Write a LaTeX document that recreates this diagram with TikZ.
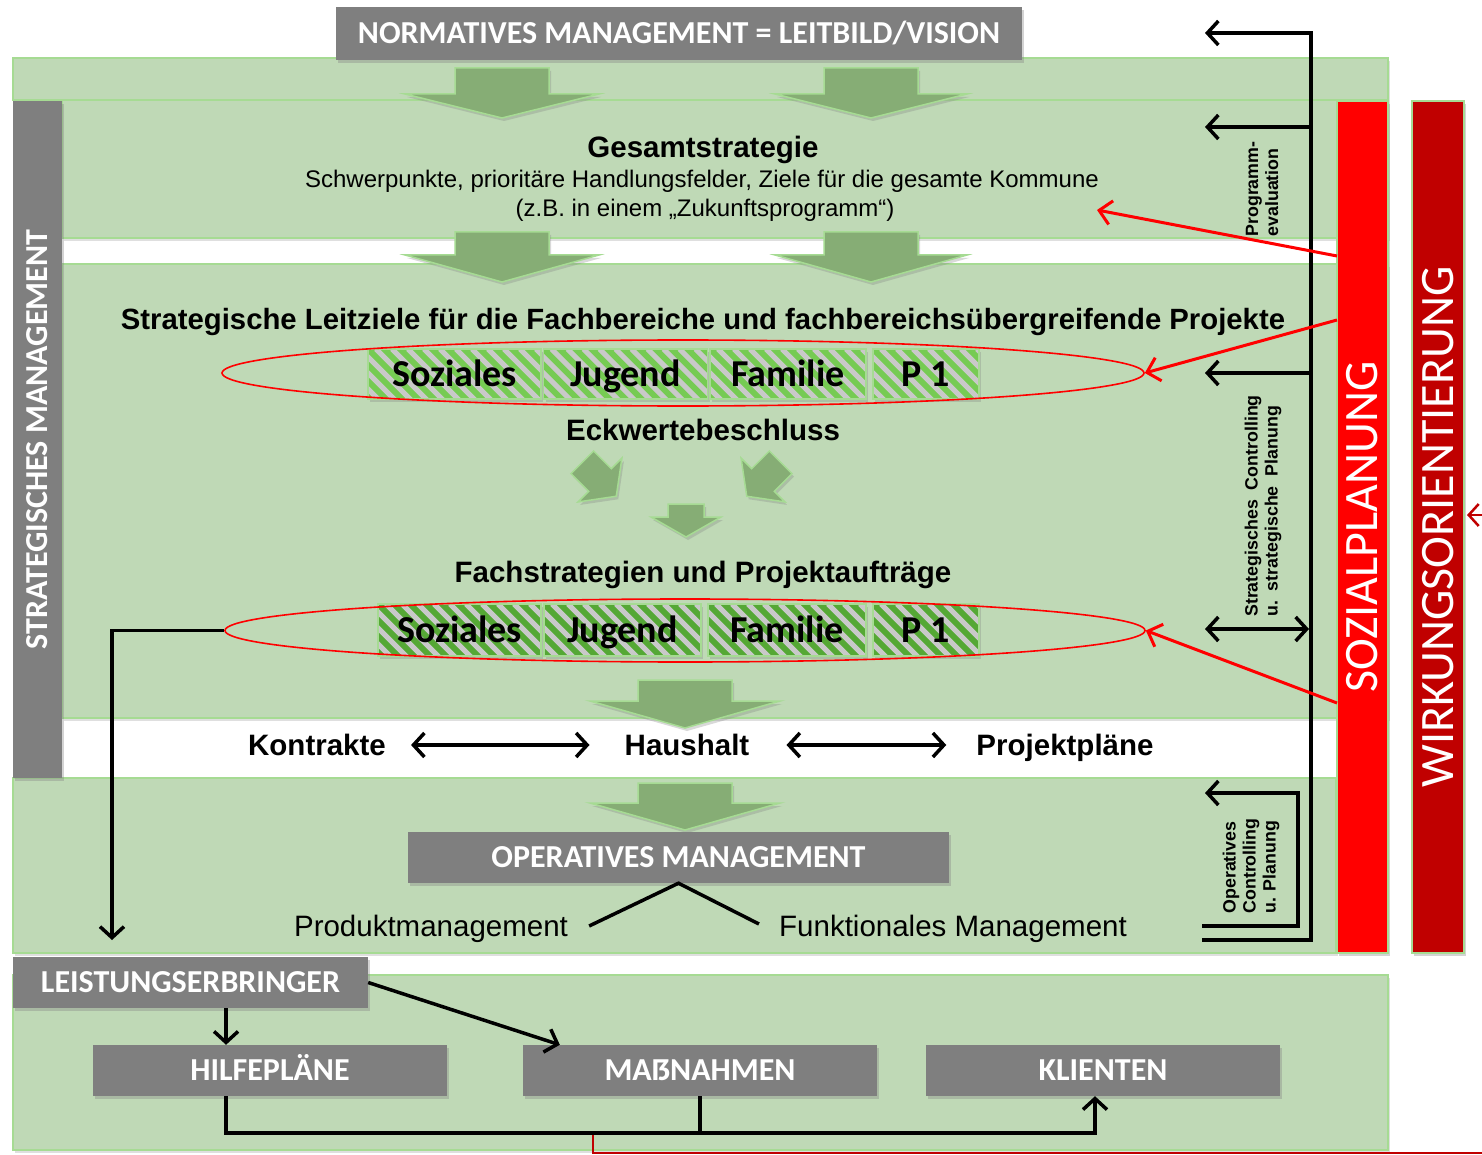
\documentclass[tikz,border=0pt]{standalone}
\usepackage{fontspec}
\setmainfont{Liberation Sans}
\newfontfamily\calfont{Carlito}
\usetikzlibrary{arrows.meta,shapes.geometric,shadows,calc}

\definecolor{bgGreen}{HTML}{BFD9B6}
\definecolor{edgeGreen}{HTML}{A6DB93}
\definecolor{arrowGreen}{HTML}{86AD75}
\definecolor{boxGray}{HTML}{7F7F7F}
\definecolor{stripeLight}{HTML}{76CB53}
\definecolor{stripeDark}{HTML}{55A835}
\definecolor{stripeGray}{HTML}{C9C9C9}
\definecolor{planRed}{HTML}{FF0000}
\definecolor{darkRed}{HTML}{C00000}

% block arrow pointing down: centre x, shaft top, shaft bottom, tip, shaft half width, head half width
\newcommand\blockdown[6]{%
  \filldraw[blockarrow] ({#1-#5},#2) -- ({#1+#5},#2) -- ({#1+#5},#3) -- ({#1+#6},#3)
    -- (#1,#4) -- ({#1-#6},#3) -- ({#1-#5},#3) -- cycle;}

\begin{document}
\begin{tikzpicture}[x=1pt,y=-1pt,
  panel/.style={fill=bgGreen, draw=edgeGreen, line width=1.2pt,
    drop shadow={opacity=0.25, shadow xshift=2pt, shadow yshift=-3pt}},
  blockarrow/.style={fill=arrowGreen, draw=edgeGreen, line width=1.5pt,
    drop shadow={opacity=0.3, shadow xshift=2pt, shadow yshift=-3pt}},
  graybox/.style={fill=boxGray, text=white, inner sep=0pt,
    font=\calfont\bfseries\fontsize{32}{36}\selectfont,
    text height=20.6pt, text depth=0pt,
    drop shadow={opacity=0.35, shadow xshift=2pt, shadow yshift=-3pt}},
  headline/.style={font=\bfseries\fontsize{29.5}{34}\selectfont, inner sep=0pt,
    text height=21.1pt, text depth=0pt},
  bodyline/.style={font=\fontsize{24}{28}\selectfont, inner sep=0pt,
    text height=17.2pt, text depth=0pt},
  opline/.style={font=\fontsize{29.5}{34}\selectfont, inner sep=0pt,
    text height=21.1pt, text depth=0pt},
  sidelabel/.style={font=\bfseries\fontsize{17.8}{20}\selectfont, rotate=90, align=left, inner sep=0pt},
  stripebox/.style={draw=edgeGreen, line width=1.5pt, inner sep=0pt,
    minimum height=#1,
    font=\calfont\bfseries\fontsize{38}{42}\selectfont,
    text height=24.5pt, text depth=0pt,
    drop shadow={opacity=0.3, shadow xshift=2pt, shadow yshift=-3pt},
    path picture={\foreach \k in {-72,-56,...,200}
      \draw[stripeGray, line width=5pt]
        ([xshift=\k pt]path picture bounding box.north west) -- ++(80,80);}},
  vbar/.style={rotate=90, inner sep=0pt, draw=edgeGreen, line width=1.2pt,
    text=white, font=\calfont\fontsize{48}{52}\selectfont,
    text height=30.9pt, text depth=0pt,
    drop shadow={opacity=0.35, shadow xshift=2pt, shadow yshift=-3pt}},
  blk/.style={line width=3.5pt, line join=miter},
  blkarrow/.style={blk, -{Straight Barb[length=11pt,width=24pt]}},
  blkdouble/.style={blk, {Straight Barb[length=11pt,width=24pt]}-{Straight Barb[length=11pt,width=24pt]}},
  redarrow/.style={draw=planRed, line width=3pt, -{Straight Barb[length=12pt,width=24pt]}},
  ring/.style={ellipse, draw=planRed, line width=1.6pt, inner sep=0pt}
]
\useasboundingbox (0,0) rectangle (1482,1155);

% background panels
\path[panel] (13,58) rectangle (1388,100);
\path[panel] (62,100) rectangle (1388,238);
\path[panel] (62,264) rectangle (1388,718);
\path[panel] (13,778) rectangle (1336,953);
\path[panel] (13,975) rectangle (1388,1150);

% green block arrows
\blockdown{502}{68}{94}{118}{47}{97}
\blockdown{871}{68}{94}{118}{47}{96}
\blockdown{502}{232}{255}{282}{47}{97}
\blockdown{871}{232}{255}{282}{47}{96}
\blockdown{685}{680}{701}{728}{47}{95}
\blockdown{685}{783}{803}{830}{47}{95}
\blockdown{686}{504}{517}{537}{18}{35}
\begin{scope}[shift={(600,480)}, rotate=45]
  \blockdown{0}{-25}{0}{23}{16}{31}
\end{scope}
\begin{scope}[shift={(763,480)}, rotate=-45]
  \blockdown{0}{-25}{0}{23}{16}{31}
\end{scope}

% normative level
\node[graybox, minimum width=686pt, minimum height=53pt] (norm) at (679,33.5)
  {NORMATIVES MANAGEMENT = LEITBILD/VISION};

% strategic management bar
\node[graybox, rotate=90, minimum width=677pt, minimum height=49pt] (strat) at (37.5,439.5)
  {STRATEGISCHES MANAGEMENT};

% overall strategy
\node[headline] (gesamt) at (703,147) {Gesamtstrategie};
\node[bodyline] (schwer) at (702,179)
  {Schwerpunkte, prioritäre Handlungsfelder, Ziele für die gesamte Kommune};
\node[bodyline] (zukunft) at (705,208) {(z.B. in einem „Zukunftsprogramm“)};

% guiding goals
\node[headline, font=\bfseries\fontsize{29.3}{34}\selectfont] (leit) at (703,319)
  {Strategische Leitziele für die Fachbereiche und fachbereichsübergreifende Projekte};
\node[stripebox=50pt, fill=stripeLight, minimum width=173pt] (soz1) at (454.5,374) {Soziales};
\node[stripebox=50pt, fill=stripeLight, minimum width=164pt] (jug1) at (625.5,374) {Jugend};
\node[stripebox=50pt, fill=stripeLight, minimum width=156pt] (fam1) at (788,374) {Familie};
\node[stripebox=50pt, fill=stripeLight, minimum width=106pt] (pro1) at (926,374) {P 1};
\node[ring, minimum width=922pt, minimum height=66pt] (ell1) at (683,373) {};

\node[headline] (eck) at (703,430) {Eckwertebeschluss};

% specialised strategies
\node[headline] (fach) at (703,572) {Fachstrategien und Projektaufträge};
\node[stripebox=52pt, fill=stripeDark, minimum width=163pt] (soz2) at (459.5,630) {Soziales};
\node[stripebox=52pt, fill=stripeDark, minimum width=157pt] (jug2) at (622.5,630) {Jugend};
\node[stripebox=52pt, fill=stripeDark, minimum width=158pt] (fam2) at (787,630) {Familie};
\node[stripebox=52pt, fill=stripeDark, minimum width=106pt] (pro2) at (926,630) {P 1};
\node[ring, minimum width=920pt, minimum height=63pt] (ell2) at (685,630.5) {};

% budget row
\node[headline] (kon) at (317,745) {Kontrakte};
\node[headline] (haus) at (687,745) {Haushalt};
\node[headline] (proj) at (1065,745) {Projektpläne};
\draw[blkdouble, shorten <=25pt, shorten >=35pt] (kon.east) -- (haus.west);
\draw[blkdouble, shorten <=37pt, shorten >=30pt] (haus.east) -- (proj.west);

% operative management
\node[graybox, minimum width=541pt, minimum height=51pt] (oper) at (678.5,857.5)
  {OPERATIVES MANAGEMENT};
\node[opline] (prod) at (431,926) {Produktmanagement};
\node[opline] (funk) at (953,926) {Funktionales Management};
\draw[blk] ([shift={(21,0)}]prod.east) -- (oper.south) -- ([shift={(-20,-2)}]funk.west);

% service providers
\node[graybox, minimum width=355pt, minimum height=51pt] (leist) at (190.5,982.5)
  {LEISTUNGSERBRINGER};
\node[graybox, minimum width=354pt, minimum height=51pt] (hilfe) at (270,1070.5) {HILFEPLÄNE};
\node[graybox, minimum width=354pt, minimum height=51pt] (mass) at (700,1070.5) {MAẞNAHMEN};
\node[graybox, minimum width=354pt, minimum height=51pt] (klient) at (1103,1070.5) {KLIENTEN};

\coordinate (lsplit) at ($(leist.south west)!0.6!(leist.south east)$);
\draw[blkarrow] (lsplit) -- (lsplit |- hilfe.north);
\draw[blkarrow] (leist.east) -- ([xshift=37pt]mass.north west);
\coordinate (hfoot) at ([xshift=-44pt]hilfe.south);
\coordinate (kfoot) at ([xshift=-8pt]klient.south);
\draw[blkarrow] (hfoot) -- ++(0,37) -| (kfoot);
\draw[blk] (mass.south) -- (mass.south |- 0,1133);

% strategic feedback from the goals down to the operative level
\coordinate (fdrop) at (112,940);
\draw[blkarrow] (ell2.west) -- (fdrop |- ell2.west) -- (fdrop);

% social planning and impact orientation bars
\node[vbar, fill=planRed, minimum width=852pt, minimum height=51pt] (sozpl) at (1362.5,527) {SOZIALPLANUNG};
\node[vbar, fill=darkRed, minimum width=852pt, minimum height=52pt] (wirk) at (1438,527) {WIRKUNGSORIENTIERUNG};

% controlling loop on the right
\coordinate (loopTop) at (1311,33);
\coordinate (loopBot) at (1311,940);
\coordinate (tipTop) at (1205,33);
\coordinate (tipGes) at (1205,127);
\coordinate (tipLeit) at (1205,373);
\coordinate (tipFachL) at (1205,629);
\coordinate (tipFachR) at (1309,629);
\coordinate (loopEnd) at (1202,940);
\draw[blkarrow] (loopEnd) -- (loopBot) -- (loopTop) -- (tipTop);
\draw[blkarrow] (loopTop |- tipGes) -- (tipGes);
\draw[blkarrow] (loopTop |- tipLeit) -- (tipLeit);
\draw[blkdouble] (tipFachL) -- (tipFachR);

\coordinate (opStart) at (1202,926);
\coordinate (opCorner) at (1298,926);
\coordinate (opTip) at (1205,793);
\draw[blkarrow] (opStart) -- (opCorner) -- (opCorner |- opTip) -- (opTip);

\node[sidelabel] (progev) at (1262,189) {Programm-\\evaluation};
\node[sidelabel] (stratcon) at (1263,506) {Strategisches\ \ Controlling\\u.\ \ strategische\ \ Planung};
\node[sidelabel] (opcon) at (1251,866) {Operatives\\Controlling\\u. Planung};

% red links from social planning
\coordinate (r1) at (1337,256);
\coordinate (r2) at (1337,320);
\coordinate (r3) at (1337,703);
\coordinate (zend) at (1097,210);
\draw[redarrow] (r1) -- (zend);
\draw[redarrow] (r2) -- (ell1.east);
\draw[redarrow] (r3) -- (ell2.east);

% incoming link towards impact orientation
\coordinate (wsrc) at (1500,515);
\coordinate (wtip) at (1467,515);
\draw[draw=darkRed, line width=2.5pt, -{Straight Barb[length=10pt,width=22pt]}] (wsrc) -- (wtip);

% red link along the lower edge
\coordinate (bl1) at (593,1135);
\coordinate (bl2) at (593,1153);
\coordinate (bl3) at (1482,1153);
\draw[darkRed, line width=2pt] (bl1) -- (bl2) -- (bl3);
\end{tikzpicture}
\end{document}
